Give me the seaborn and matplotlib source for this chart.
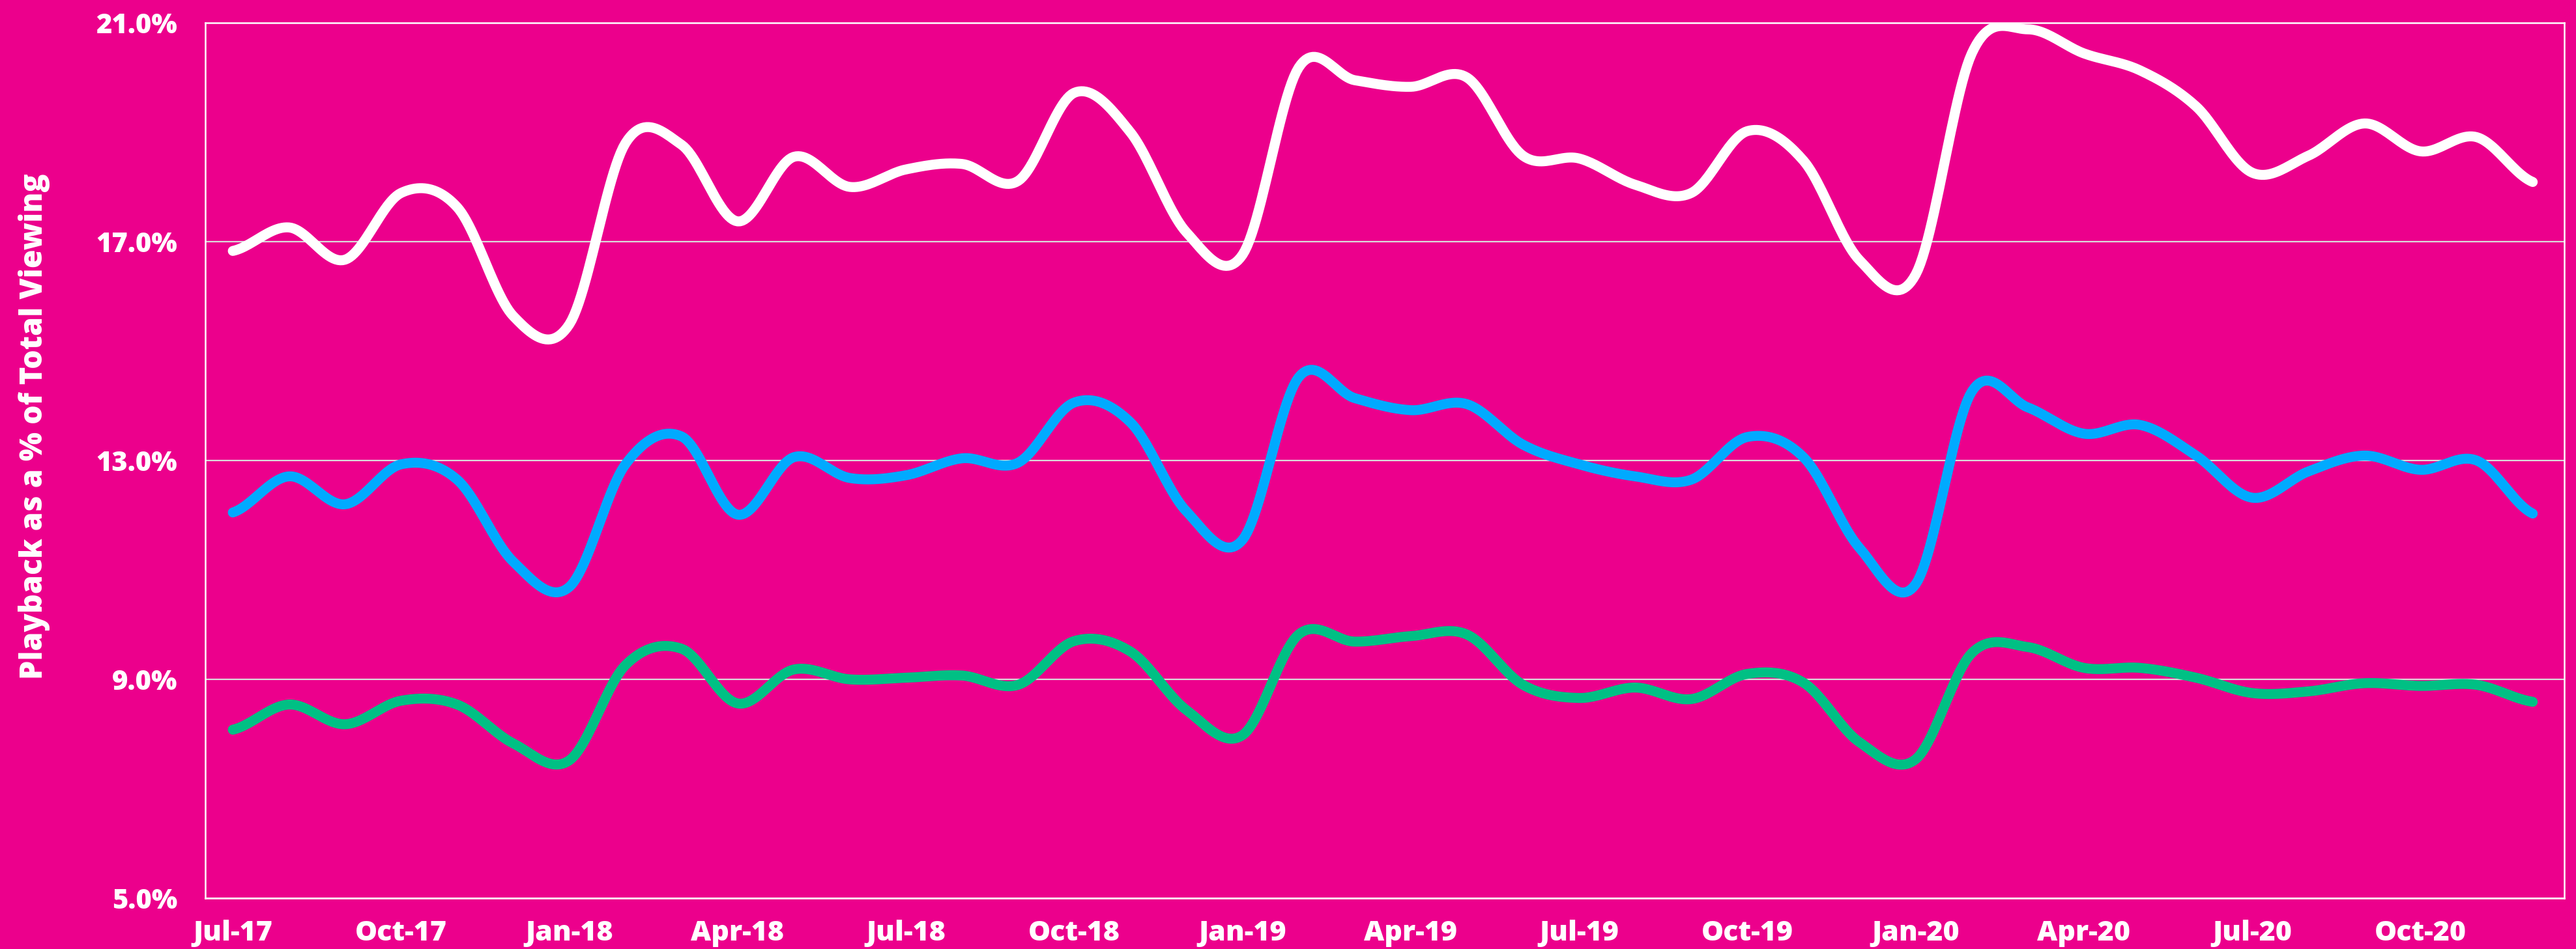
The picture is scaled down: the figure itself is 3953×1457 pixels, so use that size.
import numpy as np
import pandas as pd
import matplotlib
matplotlib.use("Agg")
import matplotlib.pyplot as plt
import seaborn as sns

# monthly points, Jul-17 .. Dec-20
months = list(pd.date_range("2017-07-01", periods=42, freq="MS").strftime("%b-%y"))
tick_labels = ["Jul-17", "Oct-17", "Jan-18", "Apr-18", "Jul-18", "Oct-18", "Jan-19",
               "Apr-19", "Jul-19", "Oct-19", "Jan-20", "Apr-20", "Jul-20", "Oct-20"]
y_ticks = [5, 9, 13, 17, 21]

# playback as % of total viewing
white_vals = [16.83, 17.26, 16.67, 17.89, 17.63, 15.64, 15.49, 18.80, 18.77, 17.37,
              18.55, 18.00, 18.32, 18.42, 18.11, 19.72, 19.00, 17.17, 16.76, 20.18,
              19.95, 19.83, 20.00, 18.57, 18.52, 18.04, 17.89, 19.02, 18.48, 16.66,
              16.40, 20.44, 20.88, 20.44, 20.13, 19.47, 18.26, 18.57, 19.16, 18.65,
              18.91, 18.09]
blue_vals = [12.05, 12.71, 12.20, 12.93, 12.65, 11.15, 10.69, 12.93, 13.44, 12.01,
             13.06, 12.68, 12.73, 13.04, 12.96, 14.06, 13.70, 12.07, 11.55, 14.52,
             14.14, 13.92, 14.03, 13.29, 12.93, 12.71, 12.65, 13.43, 13.06, 11.40,
             10.74, 14.26, 13.97, 13.49, 13.65, 13.09, 12.32, 12.80, 13.09, 12.83,
             13.00, 12.03]
green_vals = [8.08, 8.54, 8.18, 8.61, 8.54, 7.83, 7.52, 9.26, 9.56, 8.56,
              9.18, 9.00, 9.03, 9.07, 8.90, 9.70, 9.51, 8.44, 7.98, 9.82,
              9.69, 9.79, 9.82, 8.90, 8.66, 8.85, 8.64, 9.10, 8.94, 7.85,
              7.54, 9.48, 9.59, 9.21, 9.21, 9.03, 8.75, 8.78, 8.93, 8.88,
              8.90, 8.59]

BG = "#EC008C"
colors = {"white": "#FFFFFF", "blue": "#00AAFF", "green": "#00C084"}


def smooth(vals, steps=24):
    # Catmull-Rom curve through the points, like a spreadsheet "smoothed line"
    y = np.asarray(vals, float)
    p = np.concatenate([[y[0]], y, [y[-1]]])
    t = np.linspace(0, 1, steps, endpoint=False)
    xs, ys = [], []
    for i in range(len(y) - 1):
        p0, p1, p2, p3 = p[i], p[i + 1], p[i + 2], p[i + 3]
        seg = 0.5 * ((2 * p1) + (-p0 + p2) * t + (2 * p0 - 5 * p1 + 4 * p2 - p3) * t ** 2
                     + (-p0 + 3 * p1 - 3 * p2 + p3) * t ** 3)
        xs.append(i + t)
        ys.append(seg)
    xs.append([len(y) - 1])
    ys.append([y[-1]])
    return np.concatenate(xs), np.concatenate(ys)


frames = []
for name, vals in [("green", green_vals), ("blue", blue_vals), ("white", white_vals)]:
    sx, sy = smooth(vals)
    frames.append(pd.DataFrame({"x": sx, "value": sy, "series": name}))
df = pd.concat(frames, ignore_index=True)

sns.set_style("white")
plt.rcParams["font.family"] = ["Open Sans", "DejaVu Sans"]

fig = plt.figure(figsize=(39.53, 14.57), dpi=100)
fig.patch.set_facecolor(BG)
ax = fig.add_axes([0.0797, 0.0535, 0.9157, 0.9225])
ax.set_facecolor(BG)

ax.grid(axis="y", color="#DADADA", linewidth=1.6)
ax.set_axisbelow(True)

sns.lineplot(data=df, x="x", y="value", hue="series", palette=colors,
             linewidth=11, legend=False, sort=False, estimator=None, ax=ax)

ax.set_xlim(-0.49, 41.56)
ax.set_ylim(5, 21)
ax.set_yticks(y_ticks)
ax.set_yticklabels([f"{v:.1f}%" for v in y_ticks])
ax.set_xticks([months.index(m) for m in tick_labels])
ax.set_xticklabels(tick_labels)
ax.tick_params(axis="y", length=0, pad=31, labelsize=30, labelcolor="white")
ax.tick_params(axis="x", length=0, pad=24, labelsize=31, labelcolor="white")
for lab in ax.get_xticklabels() + ax.get_yticklabels():
    lab.set_fontweight(800)

for side in ["left", "right", "top", "bottom"]:
    ax.spines[side].set_visible(True)
    ax.spines[side].set_color("white")
    ax.spines[side].set_linewidth(1.8)

ax.set_xlabel("")
ax.set_ylabel("Playback as a % of Total Viewing", fontsize=33.5, fontweight=800,
              color="white", va="center")
ax.yaxis.set_label_coords(-0.0725, 0.539)

fig.savefig("out.png", dpi=100, facecolor=BG)
